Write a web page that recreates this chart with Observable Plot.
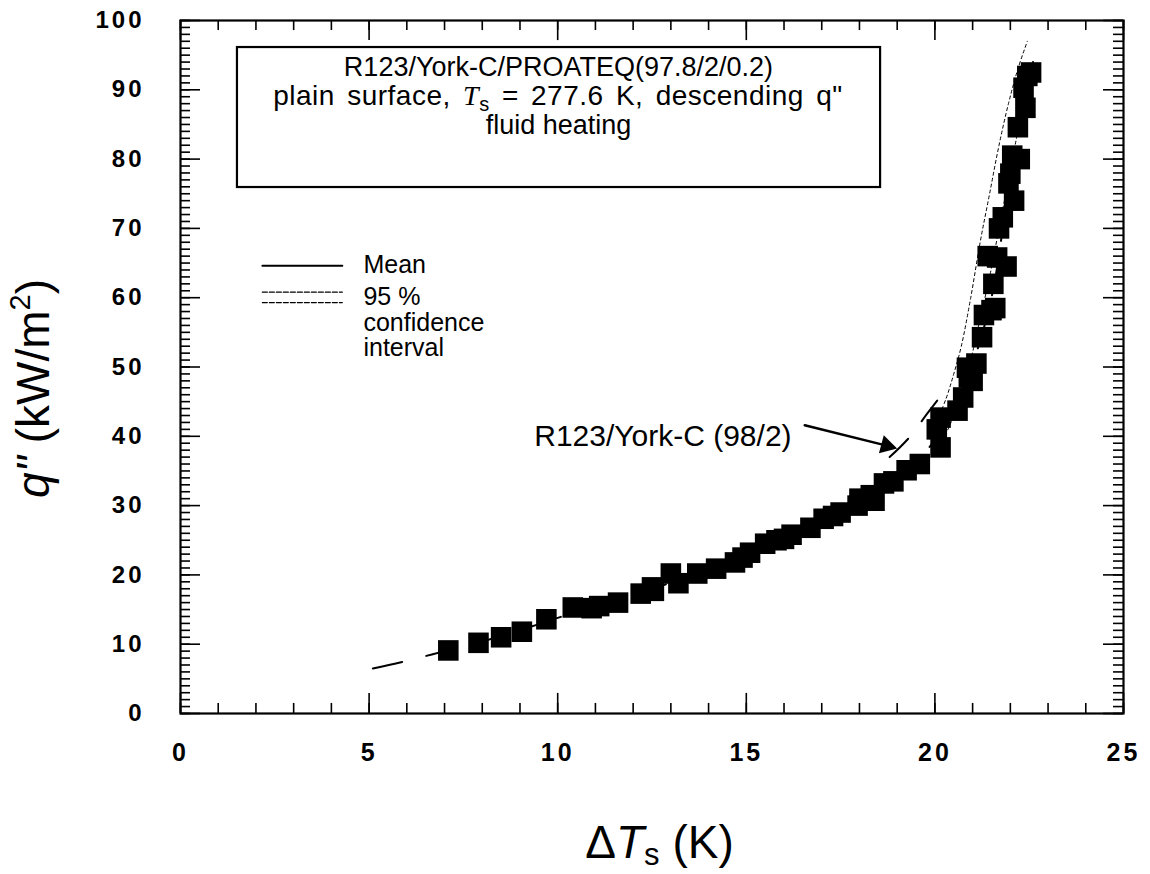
<!DOCTYPE html>
<html><head><meta charset="utf-8">
<script src="https://cdn.jsdelivr.net/npm/d3@7"></script>
<script src="https://cdn.jsdelivr.net/npm/@observablehq/plot@0.6"></script>
<style>
body{margin:0;background:#fff;}
#chart svg{font-family:"Liberation Sans",Arial,sans-serif;background:#fff;}
[aria-label="x-axis tick label"] text,[aria-label="y-axis tick label"] text{letter-spacing:3px;}
</style></head><body><div id="chart"></div>
<script>
// measured data: ΔTs (K) vs q" (kW/m2)
const deltaT = [7.1,7.9,8.5,9.05,9.7,10.4,10.9,11.1,11.6,12.2,12.5,12.55,13.0,13.2,13.7,14.2,14.7,14.9,15.1,15.5,15.8,16.0,16.2,16.7,17.05,17.3,17.5,17.95,18.0,18.3,18.4,18.65,18.9,19.25,19.6,20.05,20.15,20.15,20.6,20.75,20.85,20.9,21.0,21.1,21.25,21.3,21.4,21.5,21.55,21.6,21.65,21.7,21.8,21.9,21.95,22.0,22.05,22.1,22.2,22.25,22.35,22.4,22.45,22.55];
const heatFlux = [9.1,10.2,11.0,11.8,13.6,15.3,15.2,15.5,16.0,17.3,18.2,17.7,20.2,18.8,20.2,20.9,21.8,22.5,23.2,24.5,25.0,25.2,25.8,26.8,28.1,28.5,29.0,30.0,31.0,31.5,30.7,33.2,33.5,35.1,36.0,41.0,38.4,42.7,43.7,45.6,49.9,48.5,48.0,50.5,54.3,57.5,66.0,58.2,62.0,58.5,65.8,70.0,71.6,64.5,76.5,77.9,80.5,74.0,84.6,80.0,90.3,87.4,92.0,92.5];

// mean fit
const fitX = [5.1,6,7,8,9,10,11,12,13,14,15,16,17,18,19,19.5,20,20.5,21,21.5,21.8,22.0,22.2,22.4,22.6];
const meanY = [6.5,7.6,9.0,10.4,12.0,13.8,15.4,17.0,18.9,20.9,23.1,25.5,28.0,30.9,34.2,36.3,39.5,44.5,50.5,60,70,78,85,90,94];
// 95 % confidence interval
const ciX = [20.0,20.3,20.5,20.7,20.95,21.2,21.45,21.7,21.95,22.2,22.45];
const ciUpperY = [41.5,45.5,49,53,60,68,75,82,88,93,97];
const ciLowerY = [38.0,40.5,43,46,51,57,63,70,77,84,90];

// R123/York-C (98/2) fit
const yorkX = [18.8,19.3,19.8,20.25];
const yorkY = [37.0,39.7,43.3,46.5];

// axis ticks
const xMajorTicks = [0,5,10,15,20,25];
const xMinorTicks = [0,1,2,3,4,5,6,7,8,9,10,11,12,13,14,15,16,17,18,19,20,21,22,23,24,25];
const yMajorTicks = [0,10,20,30,40,50,60,70,80,90,100];
const yMinorTicks = [0,1,2,3,4,5,6,7,8,9,10,11,12,13,14,15,16,17,18,19,20,21,22,23,24,25,26,27,28,29,30,31,32,33,34,35,36,37,38,39,40,41,42,43,44,45,46,47,48,49,50,51,52,53,54,55,56,57,58,59,60,61,62,63,64,65,66,67,68,69,70,71,72,73,74,75,76,77,78,79,80,81,82,83,84,85,86,87,88,89,90,91,92,93,94,95,96,97,98,99,100];

// annotation texts
const boxLines = ["R123/York-C/PROATEQ(97.8/2/0.2)", "fluid heating"];
const legendLabels = ["Mean", "95 %", "confidence", "interval"];
const arrowLabel = "R123/York-C (98/2)";

const pts = deltaT.map((x,i)=>({x, y: heatFlux[i]}));
const mean = fitX.map((x,i)=>({x, y: meanY[i]}));
const ciU = ciX.map((x,i)=>({x, y: ciUpperY[i]}));
const ciL = ciX.map((x,i)=>({x, y: ciLowerY[i]}));
const york = yorkX.map((x,i)=>({x, y: yorkY[i]}));

const plot = Plot.plot({
  width: 1150, height: 874,
  marginLeft: 180, marginRight: 27, marginTop: 20, marginBottom: 161,
  x: {domain: [0,25]},
  y: {domain: [0,100]},
  marks: [
    // ticks on all four sides, inward
    Plot.ruleX(xMinorTicks, {x: d=>d, y1: 0, y2: 1.45, strokeWidth: 1.6}),
    Plot.ruleX(xMajorTicks, {x: d=>d, y1: 0, y2: 2.9, strokeWidth: 1.6}),
    Plot.ruleX(xMinorTicks, {x: d=>d, y1: 100, y2: 98.55, strokeWidth: 1.6}),
    Plot.ruleX(xMajorTicks, {x: d=>d, y1: 100, y2: 97.1, strokeWidth: 1.6}),
    Plot.ruleY(yMinorTicks, {y: d=>d, x1: 0, x2: 0.265, strokeWidth: 1.6}),
    Plot.ruleY(yMajorTicks, {y: d=>d, x1: 0, x2: 0.53, strokeWidth: 1.6}),
    Plot.ruleY(yMinorTicks, {y: d=>d, x1: 25, x2: 24.735, strokeWidth: 1.6}),
    Plot.ruleY(yMajorTicks, {y: d=>d, x1: 25, x2: 24.47, strokeWidth: 1.6}),
    Plot.axisX({ticks: xMajorTicks, tickSize: 0, tickPadding: 30, fontSize: 25, fontWeight: "bold", label: null}),
    Plot.axisY({ticks: yMajorTicks, tickSize: 0, tickPadding: 36, fontSize: 24, fontWeight: "bold", label: null}),
    // curves
    Plot.line(ciU, {x: "x", y: "y", stroke: "black", strokeWidth: 1, strokeDasharray: "3,3", curve: "catmull-rom"}),
    Plot.line(ciL, {x: "x", y: "y", stroke: "black", strokeWidth: 1, strokeDasharray: "3,3", curve: "catmull-rom"}),
    Plot.line(mean, {x: "x", y: "y", stroke: "black", strokeWidth: 2, strokeDasharray: "30,25", curve: "catmull-rom"}),
    Plot.line(york, {x: "x", y: "y", stroke: "black", strokeWidth: 2, strokeDasharray: "26,22", curve: "catmull-rom"}),
    // data
    Plot.dot(pts, {x: "x", y: "y", symbol: "square", r: 11.6, fill: "black", stroke: "none"}),
    // annotation box
    Plot.rect([{x1: 1.51, x2: 18.56, y1: 75.9, y2: 96.1}], {x1: "x1", x2: "x2", y1: "y1", y2: "y2", fill: "white", stroke: "black", strokeWidth: 2.2}),
    Plot.text([boxLines[0]], {x: 10.02, y: 93.3, text: d=>d, fontSize: 27}),
    Plot.text([boxLines[1]], {x: 10.02, y: 84.9, text: d=>d, fontSize: 27}),
    // legend
    Plot.line([{x: 2.17, y: 64.6},{x: 4.29, y: 64.6}], {x: "x", y: "y", stroke: "black", strokeWidth: 2}),
    Plot.line([{x: 2.17, y: 60.8},{x: 4.29, y: 60.8}], {x: "x", y: "y", stroke: "black", strokeWidth: 1.2, strokeDasharray: "5,2"}),
    Plot.line([{x: 2.17, y: 59.3},{x: 4.29, y: 59.3}], {x: "x", y: "y", stroke: "black", strokeWidth: 1.2, strokeDasharray: "5,2"}),
    Plot.text([legendLabels[0]], {x: 4.85, y: 64.7, text: d=>d, fontSize: 25, textAnchor: "start"}),
    Plot.text([legendLabels[1]], {x: 4.85, y: 60.1, text: d=>d, fontSize: 25, textAnchor: "start"}),
    Plot.text([legendLabels[2]], {x: 4.85, y: 56.4, text: d=>d, fontSize: 25, textAnchor: "start"}),
    Plot.text([legendLabels[3]], {x: 4.85, y: 52.7, text: d=>d, fontSize: 25, textAnchor: "start"}),
    // arrow annotation
    Plot.text([arrowLabel], {x: 16.2, y: 40.0, text: d=>d, fontSize: 30, textAnchor: "end"}),
    Plot.arrow([{x1: 16.55, y1: 41.6, x2: 18.8, y2: 38.55}], {x1: "x1", y1: "y1", x2: "x2", y2: "y2", stroke: "black", strokeWidth: 2.5, headLength: 0}),
    Plot.dot([{x: 18.72, y: 38.65}], {x: "x", y: "y", symbol: "triangle2", r: 9, fill: "black", rotate: 105}),
    Plot.frame({stroke: "black", strokeWidth: 2.2})
  ]
});

const svg = d3.select(plot);
const sx = plot.scale("x"), sy = plot.scale("y");
const ff = '"Liberation Sans",Arial,sans-serif';

// box line 2 with italic T and subscript s
const l2 = svg.append("text")
  .attr("x", sx.apply(10.02)).attr("y", sy.apply(89.1)).attr("dy", "0.35em")
  .attr("text-anchor", "middle").attr("font-size", 28).attr("font-family", ff).attr("fill", "black")
  .style("letter-spacing", "0.5px").style("word-spacing", "4px");
l2.append("tspan").text("plain surface, ");
l2.append("tspan").attr("font-family", '"Liberation Serif",serif').attr("font-style", "italic").text("T");
l2.append("tspan").attr("font-size", 20).attr("dy", 6).text("s");
l2.append("tspan").attr("dy", -6).text(" = 277.6 K, descending q\"");

// x axis title
const xr = sx.range, yr = sy.range;
const xt = svg.append("text")
  .attr("x", (xr[0]+xr[1])/2 + 8).attr("y", yr[0] + 145)
  .attr("text-anchor", "middle").attr("font-size", 46).attr("font-family", ff).attr("fill", "black");
xt.append("tspan").text("Δ");
xt.append("tspan").attr("font-style", "italic").text("T");
xt.append("tspan").attr("font-size", 31).attr("dy", 7).text("s");
xt.append("tspan").attr("dy", -7).text(" (K)");

// y axis title
const yt = svg.append("text")
  .attr("transform", `translate(49,${(yr[0]+yr[1])/2 + 22}) rotate(-90)`)
  .attr("text-anchor", "middle").attr("font-size", 46).attr("font-family", ff).attr("fill", "black");
yt.append("tspan").attr("font-style", "italic").text("q\"");
yt.append("tspan").text(" (kW/m");
yt.append("tspan").attr("font-size", 29).attr("dy", -19).text("2");
yt.append("tspan").attr("dy", 19).text(")");

document.getElementById("chart").appendChild(plot);
</script>
</body></html>
